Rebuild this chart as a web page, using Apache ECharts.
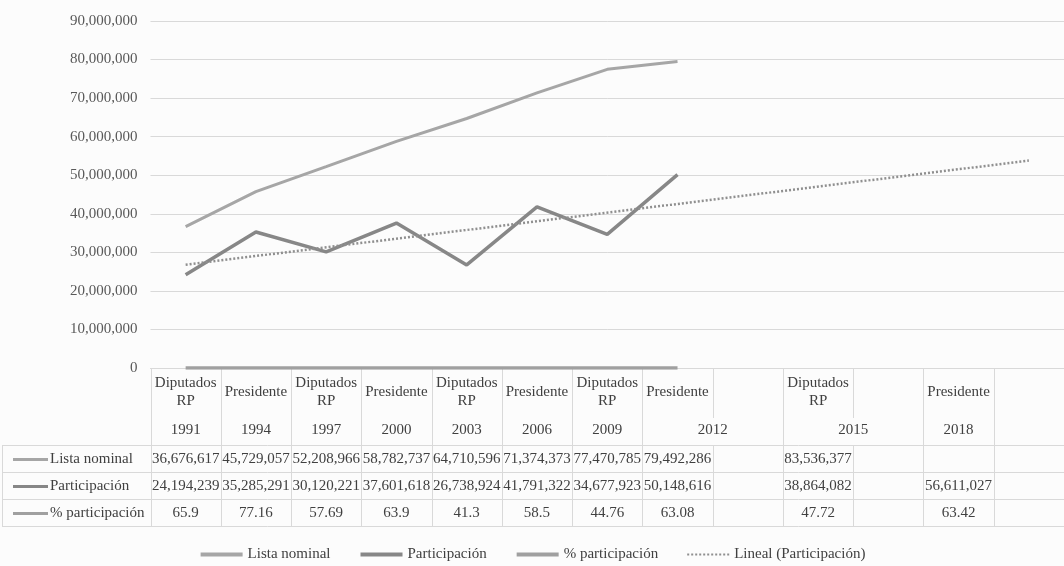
<!DOCTYPE html>
<html>
<head>
<meta charset="utf-8">
<script src="https://cdn.jsdelivr.net/npm/echarts@6/dist/echarts.min.js"></script>
<style>
html,body{margin:0;padding:0;background:#fcfcfc;}
#c{width:1064px;height:566px;}
</style>
</head>
<body>
<div id="c"></div>
<script>
// ---- data ----
const electionTypes = ['Diputados\nRP','Presidente','Diputados\nRP','Presidente','Diputados\nRP','Presidente','Diputados\nRP','Presidente','','Diputados\nRP','','Presidente',''];
const electionYears = ['1991','1994','1997','2000','2003','2006','2009','2012','2012','2015','2015','2018',''];
const listaNominal = [36676617,45729057,52208966,58782737,64710596,71374373,77470785,79492286,null,83536377,null,null,null];
const participacion = [24194239,35285291,30120221,37601618,26738924,41791322,34677923,50148616,null,38864082,null,56611027,null];
const pctParticipacion = [65.9,77.16,57.69,63.9,41.3,58.5,44.76,63.08,null,47.72,null,63.42,null];
const trendParticipacion = [26800000,null,null,null,null,null,null,null,null,null,null,null,53800000];
const seriesNames = ['Lista nominal','Participación','% participación','Lineal (Participación)'];
const yMin = 0, yMax = 90000000, yStep = 10000000;

// ---- style ----
const FONT = 'Liberation Serif';
const TXT = '#404040';
const GRID = '#d9d9d9';
const colors = ['#a6a6a6','#878787','#a0a0a0','#8f8f8f'];

const chart = echarts.init(document.getElementById('c'), null, {renderer:'canvas'});
const cats = electionYears.map((y,i)=>i+':'+y);

chart.setOption({
  backgroundColor:'#fcfcfc',
  animation:false,
  grid:{left:150.5, top:21, width:917.5, height:347, containLabel:false},
  xAxis:{
    type:'category', data:cats, boundaryGap:true,
    axisLabel:{show:false}, axisTick:{show:false},
    axisLine:{show:true, lineStyle:{color:GRID, width:1}},
    splitLine:{show:false}
  },
  yAxis:{
    type:'value', min:yMin, max:yMax, interval:yStep,
    axisLine:{show:false}, axisTick:{show:false},
    axisLabel:{margin:13, color:'#595959', fontFamily:FONT, fontSize:15,
      formatter:v=>v.toLocaleString('en-US')},
    splitLine:{lineStyle:{color:GRID, width:1}}
  },
  legend:{
    top:547, left:'center', itemWidth:42, itemHeight:14, itemGap:28, padding:0,
    itemStyle:{opacity:0},
    textStyle:{fontFamily:FONT, fontSize:15, color:TXT},
    data:[
      {name:seriesNames[0], lineStyle:{width:4}},
      {name:seriesNames[1], lineStyle:{width:4}},
      {name:seriesNames[2], lineStyle:{width:4}},
      {name:seriesNames[3], lineStyle:{width:2}}
    ]
  },
  series:[
    {name:seriesNames[0], type:'line', data:listaNominal, symbol:'none', showSymbol:false, connectNulls:false,
      lineStyle:{color:colors[0], width:3}, itemStyle:{color:colors[0]}},
    {name:seriesNames[1], type:'line', data:participacion, symbol:'none', showSymbol:false, connectNulls:false,
      lineStyle:{color:colors[1], width:3.5}, itemStyle:{color:colors[1]}},
    {name:seriesNames[2], type:'line', data:pctParticipacion, symbol:'none', showSymbol:false, connectNulls:false,
      lineStyle:{color:colors[2], width:3.5}, itemStyle:{color:colors[2]}},
    {name:seriesNames[3], type:'line', data:trendParticipacion, symbol:'none', showSymbol:false, connectNulls:true,
      lineStyle:{color:colors[3], width:2.5, type:[2,2]}, itemStyle:{color:colors[3]}}
  ]
});

// ---- data table under the plot ----
function buildTable(){
  const n = cats.length;
  const cx = i => chart.convertToPixel({xAxisIndex:0}, i);
  const colW = cx(1) - cx(0);
  const left = i => cx(i) - colW/2;
  const y0 = chart.convertToPixel({yAxisIndex:0}, 0);
  const headTop = y0 + 1;
  const innerBottom = y0 + 50;
  const headBottom = y0 + 77;
  const rowH = 27;
  const tableBottom = headBottom + rowH*3;
  const tableLeft = 2;
  const els = [];
  const line = (x1,y1,x2,y2)=>els.push({type:'line', silent:true,
    shape:{x1,y1,x2,y2}, style:{stroke:GRID, lineWidth:1}});
  const text = (t,x,y,align)=>els.push({type:'text', silent:true,
    style:{text:t, x, y, align:align||'center', verticalAlign:'middle',
      fontFamily:FONT, fontSize:15, lineHeight:18, fill:TXT}});

  // horizontal rules
  [headBottom, headBottom+rowH, headBottom+2*rowH, tableBottom].forEach(y=>{
    const yy = Math.round(y)+0.5;
    line(tableLeft, yy, left(n-1)+colW, yy);
  });
  // left border of row-label column
  line(tableLeft+0.5, Math.round(headBottom)+0.5, tableLeft+0.5, Math.round(tableBottom)+0.5);
  // vertical rules
  for(let k=0;k<=n;k++){
    const x = Math.round(left(k))+0.5;
    const inner = k>0 && k<n && electionYears[k-1]===electionYears[k] && electionYears[k]!=='';
    if(inner){
      line(x, headTop, x, innerBottom);
      line(x, headBottom, x, tableBottom);
    } else {
      line(x, headTop, x, tableBottom);
    }
  }
  // header: election type
  for(let i=0;i<n;i++){
    if(electionTypes[i]) text(electionTypes[i], cx(i), y0+24);
  }
  // header: years (grouped)
  let s=0;
  for(let i=1;i<=n;i++){
    if(i===n || electionYears[i]!==electionYears[s]){
      if(electionYears[s]) text(electionYears[s], (left(s)+left(i))/2, y0+62);
      s=i;
    }
  }
  // data rows
  const rows = [
    {vals:listaNominal, fmt:v=>v.toLocaleString('en-US')},
    {vals:participacion, fmt:v=>v.toLocaleString('en-US')},
    {vals:pctParticipacion, fmt:v=>String(v)}
  ];
  rows.forEach((r,ri)=>{
    const yc = headBottom + rowH*ri + rowH/2 + 1;
    els.push({type:'line', silent:true, shape:{x1:13, y1:yc, x2:48, y2:yc},
      style:{stroke:colors[ri], lineWidth:3}});
    text(seriesNames[ri], 50, yc, 'left');
    r.vals.forEach((v,i)=>{ if(v!==null && v!==undefined) text(r.fmt(v), cx(i), yc); });
  });
  chart.setOption({graphic:{elements:els}});
}
buildTable();
</script>
</body>
</html>
